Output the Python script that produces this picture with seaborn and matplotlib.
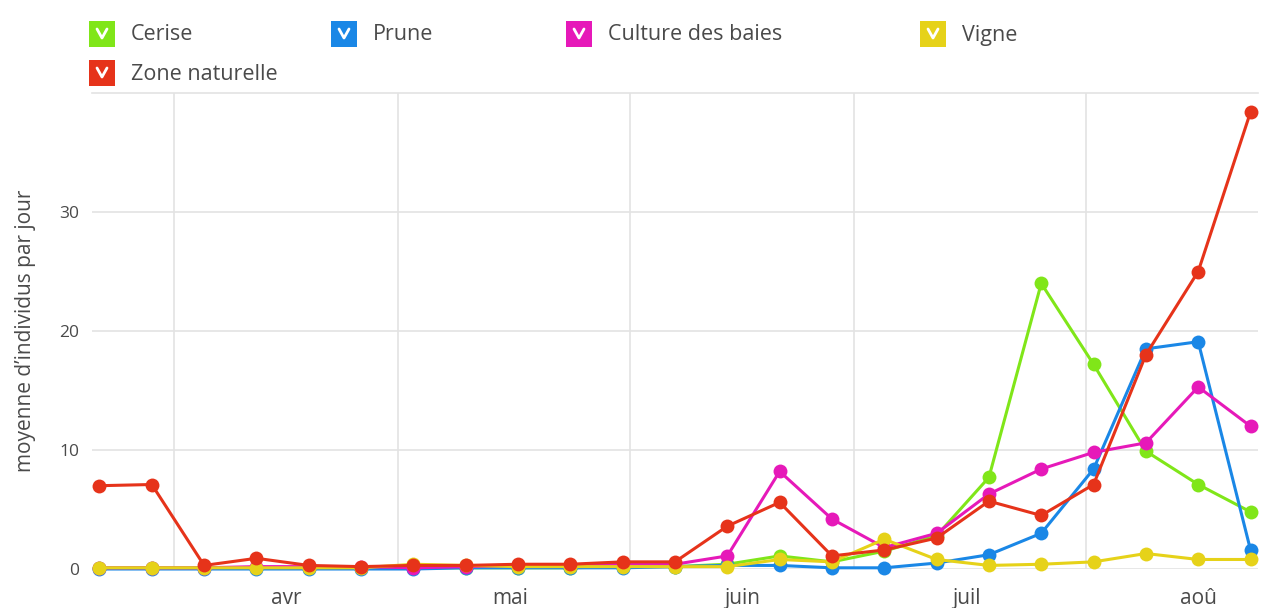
import pandas as pd
import matplotlib
matplotlib.use("Agg")
import matplotlib.pyplot as plt
import matplotlib.dates as mdates
from matplotlib.patches import Rectangle
from matplotlib.lines import Line2D
import seaborn as sns

# weekly sampling dates
dates = pd.date_range("2017-03-22", periods=23, freq="7D")

cerise = [0.1, 0.1, 0.1, 0.1, 0.1, 0.1, 0.1, 0.1, 0.1, 0.1, 0.2, 0.2,
          0.4, 1.1, 0.6, 1.5, 2.8, 7.7, 24.0, 17.2, 9.9, 7.1, 4.8]
prune = [0.0, 0.0, 0.0, 0.0, 0.0, 0.0, 0.0, 0.1, 0.1, 0.1, 0.1, 0.2,
         0.3, 0.3, 0.1, 0.1, 0.5, 1.2, 3.0, 8.4, 18.5, 19.1, 1.6]
culture_baies = [0.1, 0.1, 0.1, 0.2, 0.2, 0.2, 0.1, 0.2, 0.3, 0.3, 0.4, 0.4,
                 1.1, 8.2, 4.2, 1.8, 3.0, 6.3, 8.4, 9.8, 10.6, 15.3, 12.0]
vigne = [0.1, 0.1, 0.1, 0.1, 0.1, 0.1, 0.4, 0.3, 0.2, 0.2, 0.2, 0.2,
         0.2, 0.8, 0.6, 2.5, 0.8, 0.3, 0.4, 0.6, 1.3, 0.8, 0.8]
zone_naturelle = [7.0, 7.1, 0.3, 0.9, 0.3, 0.2, 0.3, 0.3, 0.4, 0.4, 0.6, 0.6,
                  3.6, 5.6, 1.1, 1.6, 2.6, 5.7, 4.5, 7.1, 18.0, 25.0, 38.4]

series = ["Cerise", "Prune", "Culture des baies", "Vigne", "Zone naturelle"]
colors = ["#80e619", "#1a87e6", "#e619b9", "#e6d219", "#e6331a"]

data = pd.DataFrame({"date": dates, "Cerise": cerise, "Prune": prune,
                     "Culture des baies": culture_baies, "Vigne": vigne,
                     "Zone naturelle": zone_naturelle})
long = data.melt(id_vars="date", var_name="type", value_name="moyenne")

sns.set_style("white")
plt.rcParams["font.family"] = ["Open Sans", "DejaVu Sans"]

W, H = 1264, 608
fig = plt.figure(figsize=(W / 100, H / 100), dpi=100)
ax = fig.add_axes([92 / W, 1 - 569 / H, (1258 - 92) / W, (569 - 93) / H])

sns.lineplot(data=long, x="date", y="moyenne", hue="type", hue_order=series,
             palette=dict(zip(series, colors)), marker="o", markersize=10,
             markeredgewidth=0, linewidth=2.2, legend=False, ax=ax, clip_on=False)

ax.set_ylim(0, 40)
ax.set_yticks([0, 10, 20, 30])
ax.set_xlim(pd.Timestamp("2017-03-21"), pd.Timestamp("2017-08-24"))

# gridlines at month starts, labels mid-month
ax.xaxis.set_major_locator(mdates.MonthLocator(bymonthday=1))
ax.xaxis.set_major_formatter(plt.NullFormatter())
ax.xaxis.set_minor_locator(mdates.MonthLocator(bymonthday=16))
month_names = {4: "avr", 5: "mai", 6: "juin", 7: "juil", 8: "aoû"}
ax.xaxis.set_minor_formatter(plt.FuncFormatter(
    lambda v, p: month_names.get(mdates.num2date(v).month, "")))
ax.tick_params(axis="x", which="both", length=0, labelsize=15, colors="#4a4a4a", pad=14)
ax.tick_params(axis="y", length=0, labelsize=12.5, colors="#4a4a4a", pad=9)

ax.grid(True, which="major", color="#e3e3e3", linewidth=1.2)
ax.set_axisbelow(True)
for s in ["left", "right", "bottom"]:
    ax.spines[s].set_visible(False)
ax.spines["top"].set_color("#e3e3e3")
ax.spines["top"].set_linewidth(1.2)

ax.set_xlabel("")
ax.set_ylabel("moyenne d’individus par jour", fontsize=15, color="#4a4a4a", labelpad=17)

# legend built by hand: coloured check boxes
legend_pos = [(89, 34), (331, 34), (566, 34), (920, 34), (89, 73)]
for name, col, (px, py) in zip(series, colors, legend_pos):
    box = 26
    fig.add_artist(Rectangle((px / W, 1 - (py + box / 2) / H), box / W, box / H,
                             transform=fig.transFigure, facecolor=col, edgecolor="none"))
    fig.add_artist(Line2D([(px + 8) / W, (px + 13) / W, (px + 18) / W],
                          [1 - (py - 5) / H, 1 - (py + 4) / H, 1 - (py - 5) / H],
                          transform=fig.transFigure, color="white", linewidth=2))
    fig.text((px + 42) / W, 1 - (py + 1) / H, name, fontsize=15.5, color="#4a4a4a",
             va="center", ha="left")

fig.savefig("out.png", dpi=100)
